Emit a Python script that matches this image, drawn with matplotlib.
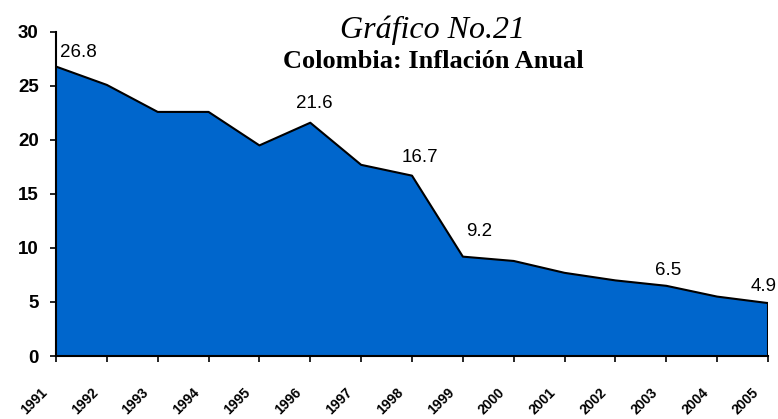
import matplotlib
matplotlib.use("Agg")
import matplotlib.pyplot as plt
from matplotlib.transforms import ScaledTranslation, blended_transform_factory
import numpy as np

years = ["1991", "1992", "1993", "1994", "1995", "1996", "1997", "1998",
         "1999", "2000", "2001", "2002", "2003", "2004", "2005"]
inflation = [26.8, 25.1, 22.6, 22.6, 19.5, 21.6, 17.7, 16.7,
             9.2, 8.8, 7.7, 7.0, 6.5, 5.5, 4.9]
labeled_years = ["1991", "1996", "1998", "1999", "2003", "2005"]
title_text = "Gráfico No.21"
subtitle_text = "Colombia: Inflación Anual"

# label offsets in points (style only)
label_offsets = {"1991": (16, 10), "1996": (3, 14), "1998": (6, 13),
                 "1999": (12, 18), "2003": (1, 11), "2005": (-3, 12)}

W, H = 778, 419
fig = plt.figure(figsize=(W / 100, H / 100), dpi=100)
ax = fig.add_axes([56 / W, 1 - 356 / H, (768 - 56) / W, (356 - 32) / H])

x = np.arange(len(years))
ax.fill_between(x, inflation, 0, facecolor="#0066CC", edgecolor="none", zorder=2)
ax.plot(x, inflation, color="black", lw=1.5, zorder=3)
ax.plot([x[-1], x[-1]], [0, inflation[-1]], color="black", lw=1.5, zorder=3)

ax.set_xlim(0, len(years) - 1)
ax.set_ylim(0, 30)
ax.set_yticks(range(0, 31, 5))
ax.set_yticklabels([str(v) for v in range(0, 31, 5)],
                   family="Liberation Sans", weight="bold", fontsize=13.5)
ax.set_xticks(x)
ax.set_xticklabels([])

for s in ["top", "right"]:
    ax.spines[s].set_visible(False)
for s in ["left", "bottom"]:
    ax.spines[s].set_linewidth(1.5)
    ax.spines[s].set_zorder(4)

ax.tick_params(axis="y", direction="out", length=4.5, width=1.2, pad=8)
ax.tick_params(axis="x", direction="out", length=4.5, width=1.2, pad=0)

trans = blended_transform_factory(ax.transData, ax.transAxes) + \
    ScaledTranslation(-0.16, -0.29, fig.dpi_scale_trans)
for xi, yr in zip(x, years):
    ax.text(xi, 0, yr, transform=trans, rotation=45, rotation_mode="anchor",
            ha="right", va="top", family="Liberation Sans", weight="bold",
            fontsize=10, clip_on=False)

for yr in labeled_years:
    i = years.index(yr)
    dx, dy = label_offsets[yr]
    ax.annotate(f"{inflation[i]:.1f}", (x[i], inflation[i]), xytext=(dx, dy),
                textcoords="offset points", ha="center", va="center",
                fontsize=13.5, family="Liberation Sans", annotation_clip=False,
                zorder=5)

fig.text(432 / W, 1 - 38 / H, title_text, ha="center", va="baseline",
         family="Liberation Serif", style="italic", fontsize=23)
fig.text(433 / W, 1 - 68 / H, subtitle_text, ha="center", va="baseline",
         family="Liberation Serif", weight="bold", fontsize=19)

fig.savefig("out.png", dpi=100)
